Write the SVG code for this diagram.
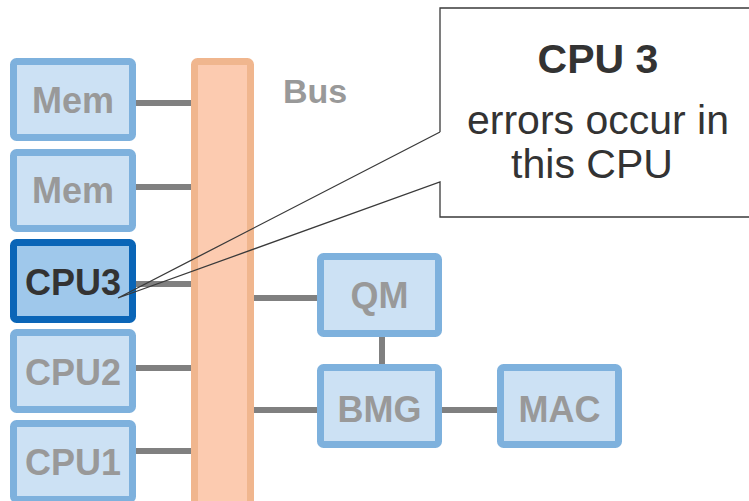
<svg xmlns="http://www.w3.org/2000/svg" width="749" height="501" viewBox="0 0 749 501">
  <style>
    .box { fill: #cce1f4; stroke: #7eb1dd; stroke-width: 7; }
    .box-hi { fill: #9fc8eb; stroke: #0a65b7; stroke-width: 7; }
    .lbl { font-family: "Liberation Sans", Arial, sans-serif; font-weight: bold; font-size: 36px; fill: #999999; text-anchor: middle; }
    .lbl-hi { fill: #333333; }
    .link { stroke: #808080; stroke-width: 6; fill: none; }
    .bus { fill: #fccbb0; stroke: #f0b68e; stroke-width: 7; }
    .note-text { font-family: "Liberation Sans", Arial, sans-serif; font-size: 41px; fill: #333333; text-anchor: middle; }
  </style>
  <rect width="749" height="501" fill="#ffffff"/>

  <!-- connectors -->
  <g id="connectors">
    <line class="link" x1="136" y1="103" x2="194" y2="103"/>
    <line class="link" x1="136" y1="187" x2="194" y2="187"/>
    <line class="link" x1="136" y1="284" x2="194" y2="284"/>
    <line class="link" x1="136" y1="368" x2="194" y2="368"/>
    <line class="link" x1="136" y1="451" x2="194" y2="451"/>
    <line class="link" x1="252" y1="298" x2="318" y2="298"/>
    <line class="link" x1="252" y1="410" x2="318" y2="410"/>
    <line class="link" x1="382" y1="336" x2="382" y2="365"/>
    <line class="link" x1="441" y1="410" x2="498" y2="410"/>
  </g>

  <!-- bus -->
  <g id="bus">
    <rect class="bus" x="194.5" y="61.5" width="56" height="450" rx="3"/>
    <text class="lbl" x="315" y="103" style="font-size:34px">Bus</text>
  </g>

  <g id="mem1">
    <rect class="box" x="13.5" y="61.5" width="119" height="76" rx="3"/>
    <text class="lbl" x="73" y="113">Mem</text>
  </g>
  <g id="mem2">
    <rect class="box" x="13.5" y="152.5" width="119" height="76" rx="3"/>
    <text class="lbl" x="73" y="203">Mem</text>
  </g>
  <g id="cpu3">
    <rect class="box-hi" x="13.5" y="242.5" width="119" height="77" rx="3"/>
    <text class="lbl lbl-hi" x="73" y="295">CPU3</text>
  </g>
  <g id="cpu2">
    <rect class="box" x="13.5" y="332.5" width="119" height="77" rx="3"/>
    <text class="lbl" x="73" y="385">CPU2</text>
  </g>
  <g id="cpu1">
    <rect class="box" x="13.5" y="423.5" width="119" height="76" rx="3"/>
    <text class="lbl" x="73" y="475">CPU1</text>
  </g>
  <g id="qm">
    <rect class="box" x="320.5" y="256.5" width="118" height="77" rx="3"/>
    <text class="lbl" x="379.5" y="308">QM</text>
  </g>
  <g id="bmg">
    <rect class="box" x="320.5" y="367.5" width="118" height="77" rx="3"/>
    <text class="lbl" x="379.5" y="422">BMG</text>
  </g>
  <g id="mac">
    <rect class="box" x="500.5" y="367.5" width="118" height="77" rx="3"/>
    <text class="lbl" x="559.5" y="422">MAC</text>
  </g>

  <!-- callout -->
  <g id="callout">
    <rect x="440" y="8" width="320" height="209" fill="#ffffff"/>
    <path d="M440,132 V8 H760 V217 H440 V182 L118,298 L440,132" fill="none" stroke="#3a3a3a" stroke-width="1.3" stroke-linejoin="miter"/>
    <text class="note-text" x="598" y="73" font-weight="bold">CPU 3</text>
    <text class="note-text" x="598" y="134">errors occur in</text>
    <text class="note-text" x="592" y="178">this CPU</text>
  </g>
</svg>
